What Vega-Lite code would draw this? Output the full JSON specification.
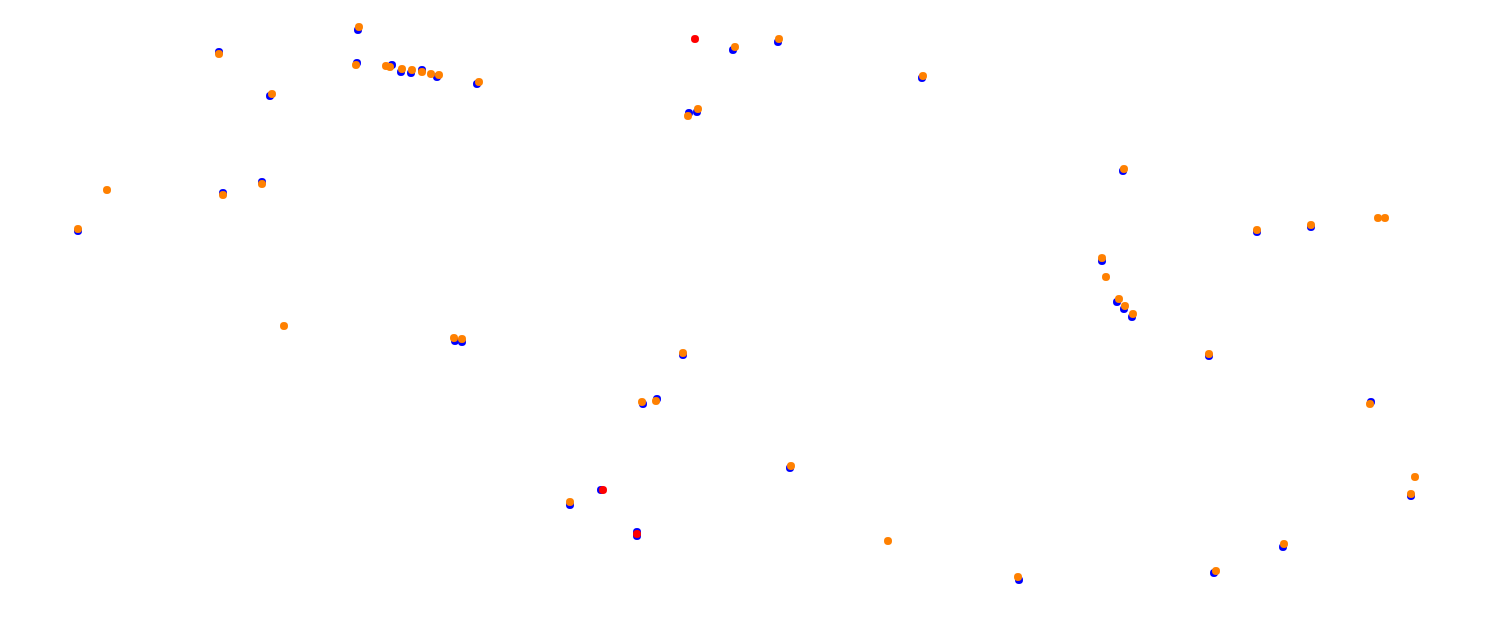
{
  "$schema": "https://vega.github.io/schema/vega-lite/v6.json",
  "width": 1495,
  "height": 627,
  "autosize": {"type": "fit", "contains": "padding"},
  "padding": 0,
  "background": "white",
  "config": {"view": {"stroke": null}},
  "data": {"values": [
    {"s": "b", "x": 358, "y": 30}, {"s": "b", "x": 219, "y": 52}, {"s": "b", "x": 270, "y": 96},
    {"s": "b", "x": 357, "y": 63}, {"s": "b", "x": 392, "y": 65}, {"s": "b", "x": 401, "y": 72},
    {"s": "b", "x": 411, "y": 73}, {"s": "b", "x": 422, "y": 70}, {"s": "b", "x": 437, "y": 77},
    {"s": "b", "x": 477, "y": 84}, {"s": "b", "x": 78, "y": 231}, {"s": "b", "x": 223, "y": 193},
    {"s": "b", "x": 262, "y": 182}, {"s": "b", "x": 455, "y": 341}, {"s": "b", "x": 462, "y": 342},
    {"s": "b", "x": 733, "y": 50}, {"s": "b", "x": 778, "y": 42}, {"s": "b", "x": 689, "y": 113},
    {"s": "b", "x": 697, "y": 112}, {"s": "b", "x": 922, "y": 78}, {"s": "b", "x": 1123, "y": 171},
    {"s": "b", "x": 1102, "y": 261}, {"s": "b", "x": 1117, "y": 302}, {"s": "b", "x": 1124, "y": 309},
    {"s": "b", "x": 1132, "y": 317}, {"s": "b", "x": 1257, "y": 232}, {"s": "b", "x": 1311, "y": 227},
    {"s": "b", "x": 1209, "y": 356}, {"s": "b", "x": 1371, "y": 402}, {"s": "b", "x": 683, "y": 355},
    {"s": "b", "x": 643, "y": 404}, {"s": "b", "x": 657, "y": 399}, {"s": "b", "x": 790, "y": 468},
    {"s": "b", "x": 570, "y": 505}, {"s": "b", "x": 601, "y": 490}, {"s": "b", "x": 637, "y": 532},
    {"s": "b", "x": 637, "y": 536}, {"s": "b", "x": 1019, "y": 580}, {"s": "b", "x": 1214, "y": 573},
    {"s": "b", "x": 1283, "y": 547}, {"s": "b", "x": 1411, "y": 496},
    {"s": "o", "x": 359, "y": 27}, {"s": "o", "x": 219, "y": 54}, {"s": "o", "x": 272, "y": 94},
    {"s": "o", "x": 356, "y": 65}, {"s": "o", "x": 386, "y": 66}, {"s": "o", "x": 390, "y": 67},
    {"s": "o", "x": 402, "y": 69}, {"s": "o", "x": 412, "y": 70}, {"s": "o", "x": 422, "y": 72},
    {"s": "o", "x": 431, "y": 74}, {"s": "o", "x": 439, "y": 75}, {"s": "o", "x": 479, "y": 82},
    {"s": "o", "x": 107, "y": 190}, {"s": "o", "x": 78, "y": 229}, {"s": "o", "x": 223, "y": 195},
    {"s": "o", "x": 262, "y": 184}, {"s": "o", "x": 284, "y": 326}, {"s": "o", "x": 454, "y": 338},
    {"s": "o", "x": 462, "y": 339}, {"s": "o", "x": 735, "y": 47}, {"s": "o", "x": 779, "y": 39},
    {"s": "o", "x": 688, "y": 116}, {"s": "o", "x": 698, "y": 109}, {"s": "o", "x": 923, "y": 76},
    {"s": "o", "x": 1124, "y": 169}, {"s": "o", "x": 1102, "y": 258}, {"s": "o", "x": 1106, "y": 277},
    {"s": "o", "x": 1119, "y": 299}, {"s": "o", "x": 1125, "y": 306}, {"s": "o", "x": 1133, "y": 314},
    {"s": "o", "x": 1257, "y": 230}, {"s": "o", "x": 1311, "y": 225}, {"s": "o", "x": 1378, "y": 218},
    {"s": "o", "x": 1385, "y": 218}, {"s": "o", "x": 1209, "y": 354}, {"s": "o", "x": 1370, "y": 404},
    {"s": "o", "x": 683, "y": 353}, {"s": "o", "x": 642, "y": 402}, {"s": "o", "x": 656, "y": 401},
    {"s": "o", "x": 791, "y": 466}, {"s": "o", "x": 570, "y": 502}, {"s": "o", "x": 888, "y": 541},
    {"s": "o", "x": 1018, "y": 577}, {"s": "o", "x": 1216, "y": 571}, {"s": "o", "x": 1284, "y": 544},
    {"s": "o", "x": 1415, "y": 477}, {"s": "o", "x": 1411, "y": 494},
    {"s": "r", "x": 695, "y": 39}, {"s": "r", "x": 603, "y": 490}, {"s": "r", "x": 637, "y": 534}
  ]},
  "mark": {"type": "circle", "size": 64, "opacity": 1},
  "encoding": {
    "x": {"field": "x", "type": "quantitative", "scale": {"domain": [0, 1495], "nice": false, "zero": false}, "axis": null},
    "y": {"field": "y", "type": "quantitative", "scale": {"domain": [0, 627], "nice": false, "zero": false, "reverse": true}, "axis": null},
    "color": {"field": "s", "type": "nominal", "scale": {"domain": ["b", "o", "r"], "range": ["#0000ff", "#ff8000", "#ff0000"]}, "legend": null}
  }
}
